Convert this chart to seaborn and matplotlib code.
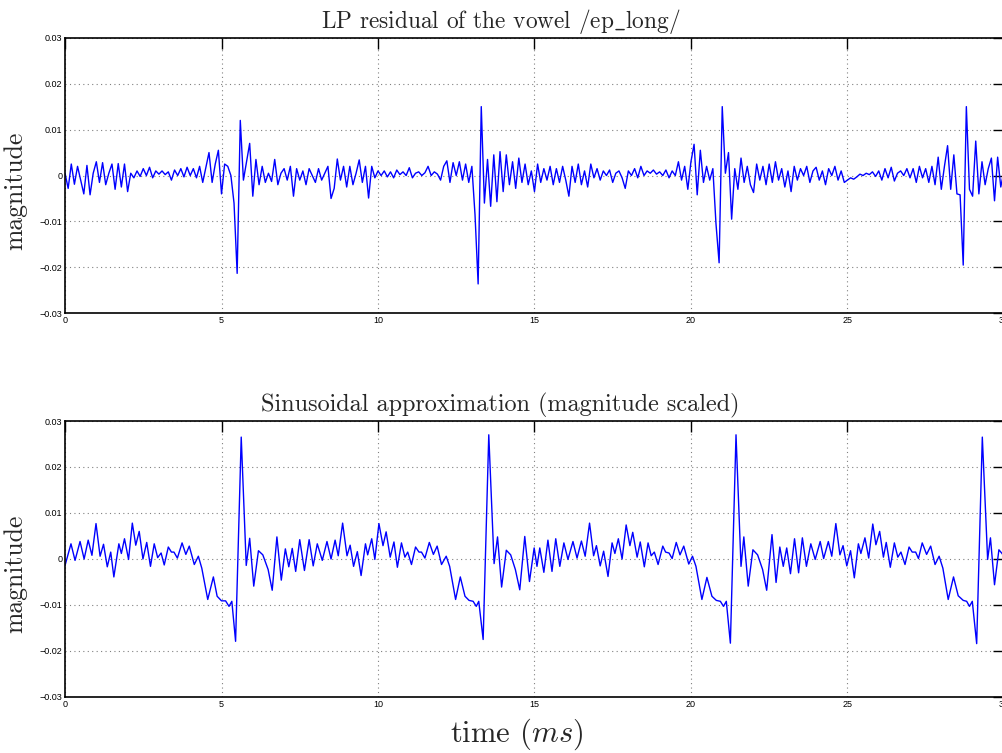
import numpy as np
import pandas as pd
import matplotlib
matplotlib.use("Agg")
import matplotlib.pyplot as plt
import seaborn as sns
from matplotlib.ticker import FixedLocator, FuncFormatter

# ---------------- data (in units of 1e-3) -------------
residual_step_ms = 0.1
residual_milli = [
    0.5, -2.8, 2.5, -1.9, 2.0, -1.0, -4.0, 2.2, -4.2, 0.5,
    3.0, -1.5, 2.8, -2.0, 0.5, 2.5, -3.0, 2.6, -2.5, 2.5,
    -3.5, 0.5, -0.5, 1.0, -0.2, 1.5, 0.0, 1.8, -0.5, 1.0,
    0.3, 1.0, 0.2, 0.8, -1.0, 1.2, 0.0, 1.5, -0.3, 1.8,
    0.0, 1.5, -0.5, 2.0, -1.5, 1.8, 5.0, -1.5, 2.5, 5.5,
    -4.0, 2.5, 2.0, 0.0, -6.0, -21.3, 12.0, -1.0, 3.0, 7.0,
    -4.5, 3.5, -2.0, 2.0, -1.5, 0.5, -1.3, 3.5, -2.0, 0.5,
    1.5, -1.0, 2.0, -4.5, 1.5, -1.0, 1.0, -2.0, 1.5, 0.0,
    -1.5, 1.5, -1.0, 0.5, 2.0, -5.0, -2.8, 3.6, -1.0, 2.0,
    -2.5, 2.0, -2.0, 0.5, 3.4, -1.5, 2.0, -4.9, 2.0, -0.5,
    1.0, 0.0, 1.0, -0.3, 0.8, -0.5, 1.2, 0.2, 0.8, 0.0,
    1.7, -0.5, 0.5, 0.8, 0.0, 0.6, 2.0, 0.0, 0.8, 0.3,
    -1.0, 2.0, 3.2, -1.5, 2.8, 0.0, 3.0, -1.0, 2.5, -1.5,
    2.0, -8.5, -23.6, 15.0, -6.0, 3.5, -6.7, 4.5, -5.7, 5.2,
    -3.5, 4.5, -2.0, 3.0, -2.8, 3.8, -1.5, 2.5, -2.0, 1.0,
    -3.5, 2.5, -1.5, 1.5, -1.0, 2.0, -2.0, 1.5, -1.5, 2.0,
    -1.0, -4.5, 2.0, -1.5, 2.5, -2.0, 1.0, -2.5, 2.5, -0.5,
    1.5, -1.0, 1.0, 0.0, 1.2, -1.5, 0.5, 1.0, -0.5, -2.8,
    1.0, 0.0, 1.5, -0.5, 2.0, 0.0, 1.0, 0.5, 1.2, 0.3,
    0.8, 0.0, 1.2, -0.5, 1.0, 0.0, 3.0, -1.0, 2.0, -3.0,
    3.0, 6.8, -4.2, 5.5, -1.5, 2.0, -1.0, 1.5, -10.5, -19.0,
    15.0, 0.5, 5.0, -9.5, 1.5, -3.0, 3.8, -1.5, 2.0, -2.0,
    -3.7, 2.5, -1.0, 2.0, -2.0, 2.5, -1.5, 3.0, -1.0, 1.5,
    -2.5, 1.0, -3.5, 2.0, -1.0, 1.5, 0.0, 2.0, -1.5, 1.0,
    1.8, -1.0, 1.0, -2.0, 1.5, 0.0, 2.0, -1.0, 1.0, -1.5,
    -1.0, -0.5, -0.8, -0.3, 0.3, 0.0, 0.5, 0.2, 0.8, -0.2,
    1.0, -1.0, 1.5, -0.5, 1.8, -1.2, 0.5, 1.0, 0.0, 1.5,
    -0.5, 1.5, -1.5, 2.0, -0.5, 1.5, -1.5, 2.0, -2.0, 4.0,
    -3.0, 2.0, 6.5, -3.0, 4.5, -4.0, -4.2, -19.5, 15.0, -3.0,
    -4.5, 7.5, -4.0, 3.0, -2.0, 1.5, 3.8, -5.5, 4.0, -2.5,
    1.0,
]

approx_time_ms = [
    0.00, 0.19, 0.32, 0.48, 0.61, 0.74, 0.86, 0.99, 1.12, 1.23, 1.35, 1.46, 1.56, 1.72,
    1.80, 1.90, 2.03, 2.15, 2.26, 2.37, 2.49, 2.61, 2.73, 2.85, 2.96, 3.07, 3.17, 3.30,
    3.40, 3.48, 3.59, 3.74, 3.86, 3.97, 4.13, 4.26, 4.37, 4.56, 4.74, 4.86, 5.00, 5.13,
    5.24, 5.33, 5.45, 5.63, 5.79, 5.90, 6.03, 6.18, 6.32, 6.49, 6.62, 6.77, 6.91, 7.04,
    7.15, 7.26, 7.37, 7.50, 7.65, 7.80, 7.93, 8.06, 8.22, 8.37, 8.50, 8.63, 8.73, 8.87,
    9.01, 9.11, 9.22, 9.34, 9.46, 9.60, 9.67, 9.80, 9.90, 10.03, 10.16, 10.26, 10.39,
    10.51, 10.62, 10.75, 10.86, 10.95, 11.07, 11.20, 11.31, 11.39, 11.50, 11.64, 11.77,
    11.89, 12.03, 12.18, 12.29, 12.48, 12.63, 12.78, 12.91, 13.04, 13.14, 13.22, 13.36,
    13.54, 13.71, 13.82, 13.95, 14.10, 14.24, 14.39, 14.53, 14.69, 14.84, 14.99, 15.08,
    15.17, 15.30, 15.43, 15.56, 15.68, 15.81, 15.94, 16.07, 16.23, 16.36, 16.50, 16.62,
    16.76, 16.89, 16.98, 17.10, 17.21, 17.35, 17.48, 17.57, 17.68, 17.80, 17.93, 18.05,
    18.14, 18.28, 18.38, 18.51, 18.63, 18.73, 18.83, 18.95, 19.10, 19.19, 19.30, 19.40,
    19.53, 19.65, 19.77, 19.93, 20.05, 20.16, 20.35, 20.51, 20.67, 20.81, 20.94, 21.04,
    21.13, 21.26, 21.44, 21.60, 21.69, 21.83, 21.98, 22.13, 22.29, 22.42, 22.59, 22.72,
    22.84, 22.95, 23.06, 23.18, 23.31, 23.44, 23.56, 23.69, 23.83, 23.97, 24.13, 24.24,
    24.39, 24.50, 24.63, 24.76, 24.86, 24.98, 25.10, 25.22, 25.35, 25.43, 25.56, 25.68,
    25.81, 25.91, 26.03, 26.15, 26.24, 26.37, 26.50, 26.61, 26.71, 26.84, 26.97, 27.07,
    27.18, 27.27, 27.39, 27.53, 27.66, 27.80, 27.93, 28.05, 28.22, 28.39, 28.54, 28.70,
    28.81, 28.90, 28.99, 29.13, 29.31, 29.48, 29.57, 29.70, 29.84, 29.94, 30.00,
]
approx_milli = [
    -1.4, 3.3, -0.3, 3.8, 0.0, 4.1, 0.8, 7.7, 0.6, 3.2, -1.7, 1.5, -3.9, 3.3,
    1.2, 4.4, -0.1, 7.8, 3.0, 6.0, 0.0, 3.6, -1.6, 3.3, 0.3, 1.3, -1.3, 2.6,
    1.5, 1.5, 0.2, 3.5, 1.0, 2.8, -1.2, 0.6, -2.0, -8.8, -3.9, -8.1, -9.1, -9.1,
    -10.3, -9.2, -17.9, 26.5, -1.4, 4.5, -5.9, 1.8, 0.9, -2.3, -6.8, 4.8, -4.6, 2.2,
    -1.7, 2.3, -2.7, 4.2, -2.5, 4.2, -1.5, 3.3, -0.3, 3.8, 0.0, 4.1, 0.7, 7.8,
    0.7, 3.0, -1.6, 1.6, -3.6, 3.3, 0.9, 4.4, -0.1, 7.7, 2.9, 5.9, 0.4,
    3.7, -1.8, 3.5, 0.4, 1.5, -1.2, 2.6, 1.5, 1.5, 0.2, 3.6, 1.0,
    2.8, -1.2, 0.6, -1.6, -8.8, -3.9, -8.1, -9.0, -9.2, -10.3, -9.2, -17.5,
    27.0, -1.0, 4.8, -6.1, 1.9, 0.9, -2.3, -6.7, 4.9, -4.9, 2.4, -1.6,
    2.4, -2.9, 4.1, -2.7, 4.4, -1.6, 3.5, -0.1, 3.8, 0.2, 3.9, 0.6,
    7.8, 0.7, 2.9, -1.5, 1.7, -3.8, 3.5, 1.2, 4.4, 0.0, 7.4, 2.9,
    5.8, 0.4, 3.7, -1.7, 3.5, 0.7, 1.5, -1.2, 2.8, 1.5, 1.3, 0.1,
    3.6, 0.9, 2.8, -1.1, 0.6, -1.6, -8.8, -4.0, -8.1, -9.0, -9.2, -10.3,
    -9.2, -18.3, 27.0, -1.6, 4.8, -5.9, 2.0, 0.9, -2.3, -6.8, 5.3, -5.1,
    2.6, -1.6, 2.4, -3.2, 4.4, -3.0, 4.6, -1.6, 3.3, -0.1, 3.8, 0.1,
    3.8, 0.6, 7.7, 0.9, 2.9, -1.5, 1.8, -4.1, 3.3, 1.2, 4.6, 0.2,
    7.6, 3.1, 6.0, 0.4, 3.6, -1.8, 3.5, 0.4, 1.5, -1.2, 2.6, 1.5,
    1.5, 0.1, 3.5, 1.0, 2.8, -1.2, 0.6, -2.0, -8.8, -3.9, -8.0, -9.0,
    -9.2, -10.3, -9.2, -18.4, 26.5, -0.1, 4.6, -5.6, 2.0, 1.2, 0.5,
]

x_ticks = [0, 5, 10, 15, 20, 25, 30]
y_ticks = [-0.03, -0.02, -0.01, 0, 0.01, 0.02, 0.03]
top_title = r"LP residual of the vowel /ep$\_$long/"
bottom_title = "Sinusoidal approximation (magnitude scaled)"
y_label = "magnitude"
x_label = r"time ($ms$)"

# ---------------- build frames ----------------
top_df = pd.DataFrame({
    "time": np.arange(len(residual_milli)) * residual_step_ms,
    "magnitude": np.array(residual_milli) * 1e-3,
})
bot_df = pd.DataFrame({
    "time": np.array(approx_time_ms),
    "magnitude": np.array(approx_milli) * 1e-3,
})

sns.set_style("white")
plt.rcParams["font.family"] = ["Liberation Sans", "DejaVu Sans"]
plt.rcParams["mathtext.fontset"] = "cm"

fig = plt.figure(figsize=(10.02, 7.53), dpi=100)
ax_top = fig.add_axes([0.0649, 0.5839, 0.937, 0.366])
ax_bot = fig.add_axes([0.0649, 0.0744, 0.937, 0.3665])

serif = ["cmr10", "DejaVu Serif"]


def fmt_y(v, pos):
    if abs(v) < 1e-12:
        return "0"
    s = f"{abs(v):.2f}"
    return ("\u2212" if v < 0 else "") + s


for ax, df, title, tsize in ((ax_top, top_df, top_title, 16.8),
                             (ax_bot, bot_df, bottom_title, 17.4)):
    sns.lineplot(data=df, x="time", y="magnitude", ax=ax, color="#0000ff",
                 linewidth=1.0, estimator=None, sort=False)
    ax.set_xlim(0, 30)
    ax.set_ylim(-0.03, 0.03)
    ax.xaxis.set_major_locator(FixedLocator(x_ticks))
    ax.yaxis.set_major_locator(FixedLocator(y_ticks))
    ax.yaxis.set_major_formatter(FuncFormatter(fmt_y))
    ax.xaxis.set_major_formatter(FuncFormatter(lambda v, p: f"{v:g}"))
    ax.grid(True, color="#808080", linestyle=(0, (1, 3)), linewidth=0.8)
    ax.tick_params(direction="in", length=8, width=1.0, top=True, right=True,
                   labelsize=6.5, pad=2, colors="black")
    for sp in ax.spines.values():
        sp.set_color("black")
        sp.set_linewidth(1.2)
    ax.set_title(title, fontsize=tsize, family=serif, x=0.464, pad=7)
    ax.set_ylabel(y_label, fontsize=18.5, family=serif)
    ax.yaxis.set_label_coords(-0.040, 0.445)
    ax.set_xlabel("")

ax_bot.set_xlabel(x_label, fontsize=22, family=serif)
ax_bot.xaxis.set_label_coords(0.481, -0.07)

fig.savefig("out.png", dpi=100)
